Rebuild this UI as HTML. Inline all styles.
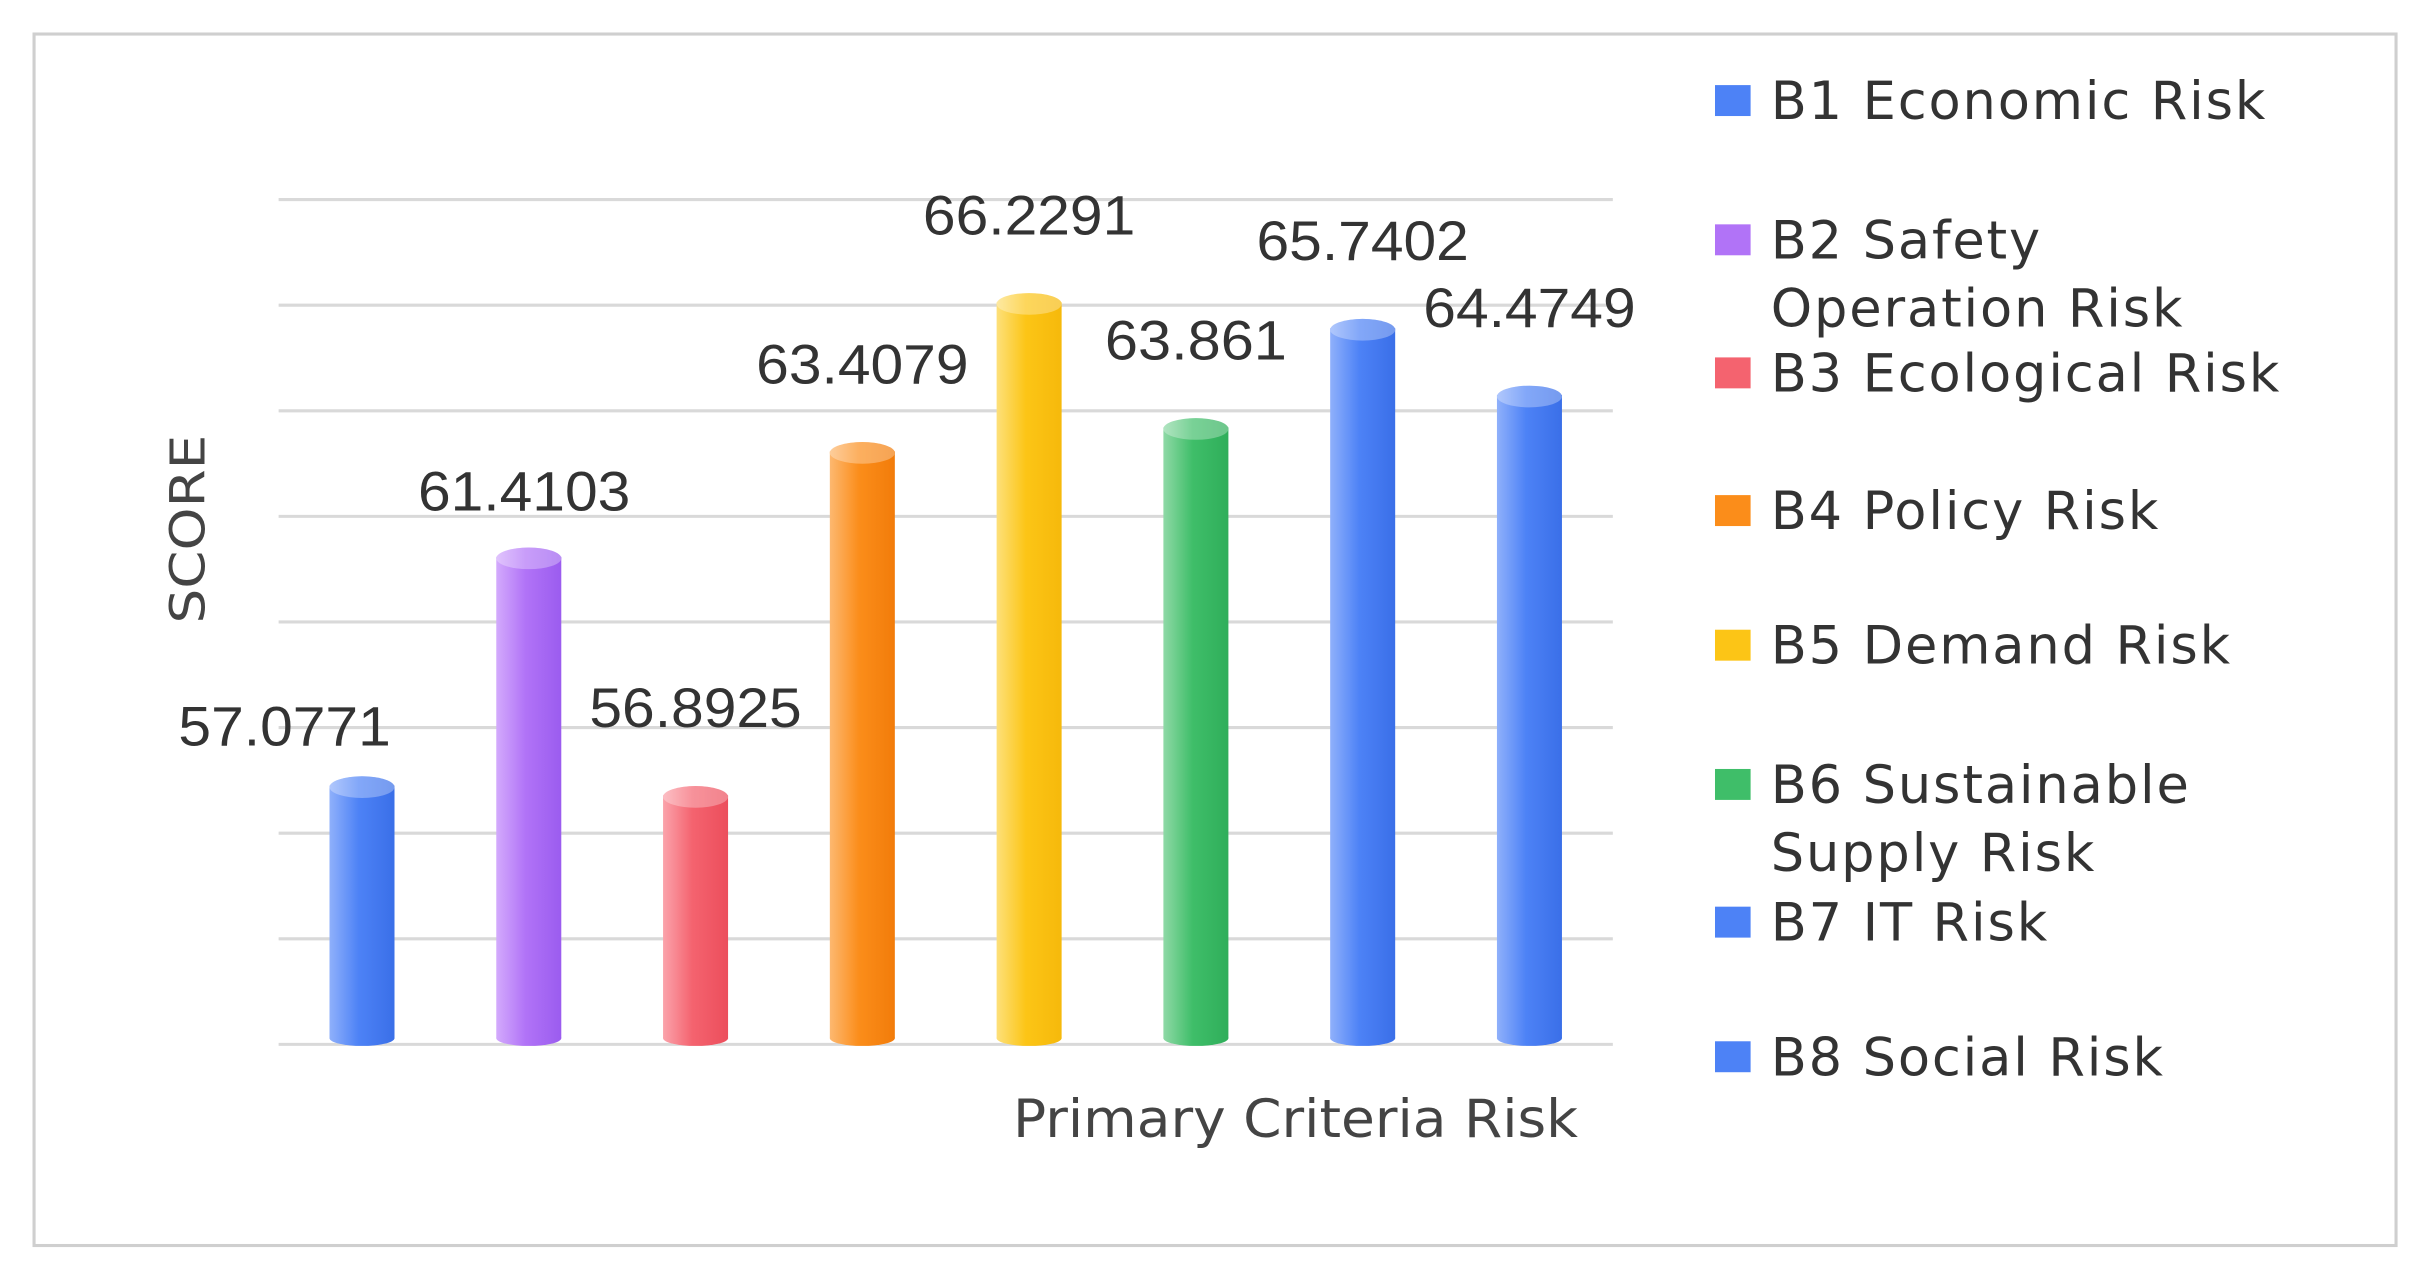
<!DOCTYPE html>
<html><head><meta charset="utf-8"><style>
html,body{margin:0;padding:0;background:#fff;}
svg{display:block;}
</style></head><body>
<svg id="chart" width="2427" height="1278" viewBox="0 0 1568 826" preserveAspectRatio="none" xmlns="http://www.w3.org/2000/svg">
<defs>
<linearGradient id="gBlue" x1="0" x2="1"><stop offset="0" stop-color="#8fb0fb"/><stop offset="0.45" stop-color="#4d82f6"/><stop offset="1" stop-color="#3a6fe8"/></linearGradient>
<linearGradient id="gPurple" x1="0" x2="1"><stop offset="0" stop-color="#d3aafc"/><stop offset="0.45" stop-color="#b173f7"/><stop offset="1" stop-color="#9b5cef"/></linearGradient>
<linearGradient id="gRed" x1="0" x2="1"><stop offset="0" stop-color="#fba3ab"/><stop offset="0.45" stop-color="#f4636f"/><stop offset="1" stop-color="#ec4e5c"/></linearGradient>
<linearGradient id="gOrange" x1="0" x2="1"><stop offset="0" stop-color="#fdb870"/><stop offset="0.45" stop-color="#fb8d1a"/><stop offset="1" stop-color="#f27c0a"/></linearGradient>
<linearGradient id="gYellow" x1="0" x2="1"><stop offset="0" stop-color="#fde07a"/><stop offset="0.45" stop-color="#fcc516"/><stop offset="1" stop-color="#f6b90b"/></linearGradient>
<linearGradient id="gGreen" x1="0" x2="1"><stop offset="0" stop-color="#8fd9a6"/><stop offset="0.45" stop-color="#3fbe69"/><stop offset="1" stop-color="#2fae5a"/></linearGradient>
</defs>
<rect x="22" y="22" width="1526" height="783" fill="#fff" stroke="#cfcfcf" stroke-width="2"/>
<g id="grid"></g>
<g id="bars"></g>
<g id="labels"></g>
<text transform="translate(132,342) rotate(-90)" text-anchor="middle" font-family="'DejaVu Sans', sans-serif" font-size="31" fill="#444" textLength="122" lengthAdjust="spacingAndGlyphs">SCORE</text>
<text x="837" y="735" text-anchor="middle" font-family="'DejaVu Sans', sans-serif" font-size="34" fill="#444" textLength="365" lengthAdjust="spacingAndGlyphs">Primary Criteria Risk</text>
<g id="legend"></g>
</svg>
<script>
const categories = ["B1 Economic Risk","B2 Safety Operation Risk","B3 Ecological Risk","B4 Policy Risk","B5 Demand Risk","B6 Sustainable Supply Risk","B7 IT Risk","B8 Social Risk"];
const values = [57.0771, 61.4103, 56.8925, 63.4079, 66.2291, 63.861, 65.7402, 64.4749];
const valueLabels = ["57.0771","61.4103","56.8925","63.4079","66.2291","63.861","65.7402","64.4749"];
const yTicks = [52, 54, 56, 58, 60, 62, 64, 66, 68];
const legendLines = [["B1 Economic Risk"],["B2 Safety","Operation Risk"],["B3 Ecological Risk"],["B4 Policy Risk"],["B5 Demand Risk"],["B6 Sustainable","Supply Risk"],["B7 IT Risk"],["B8 Social Risk"]];

const fills = ["gBlue","gPurple","gRed","gOrange","gYellow","gGreen","gBlue","gBlue"];
const swatch = ["#4d82f6","#b173f7","#f4636f","#fb8d1a","#fcc516","#3fbe69","#4d82f6","#4d82f6"];
const NS = "http://www.w3.org/2000/svg";
const yMin = 52, yMax = 68, plotTop = 129, plotBottom = 675, plotLeft = 180, plotRight = 1042;
function y(v){ return plotBottom - (v - yMin) / (yMax - yMin) * (plotBottom - plotTop); }
const step = (plotRight - plotLeft) / categories.length;
function x(i){ return plotLeft + step * (i + 0.5); }
function mk(tag, attrs){ const e = document.createElementNS(NS, tag); for (const k in attrs) e.setAttribute(k, attrs[k]); return e; }

const grid = document.getElementById('grid');
yTicks.forEach(t => {
  const l = mk('line', {x1: plotLeft, x2: plotRight, y1: y(t), y2: y(t), stroke: '#d9d9d9', 'stroke-width': 2});
  
  
  grid.appendChild(l);
});

const bars = document.getElementById('bars');
const labels = document.getElementById('labels');
const bw = 42;
values.forEach((v, i) => {
  const cx = x(i), top = y(v);
  const g = mk('g', {});
  
  
  g.appendChild(mk('rect', {x: cx - bw/2, y: top + 6, width: bw, height: plotBottom - top - 10, fill: 'url(#' + fills[i] + ')'}));
  g.appendChild(mk('ellipse', {cx: cx, cy: plotBottom - 4, rx: bw/2, ry: 5, fill: 'url(#' + fills[i] + ')'}));
  g.appendChild(mk('ellipse', {cx: cx, cy: top + 7, rx: bw/2, ry: 7, fill: 'url(#' + fills[i] + ')'}));
  g.appendChild(mk('ellipse', {cx: cx, cy: top + 7, rx: bw/2, ry: 7, fill: '#fff', 'fill-opacity': 0.3}));
  bars.appendChild(g);
  let lx = cx, ly = top - 38;
  if (i === 0) { lx = cx - 50; ly = top - 20; }
  if (i === 1) { lx = cx - 3; ly = top - 24; }
  const s = valueLabels[i];
  const t = mk('text', {x: lx, y: ly, 'text-anchor': 'middle', 'font-family': "'Liberation Sans', sans-serif", 'font-size': 36, fill: '#333', 'textLength': s.length * 19.6, 'lengthAdjust': 'spacingAndGlyphs'});
  t.textContent = s;
  
  
  labels.appendChild(t);
});

const legend = document.getElementById('legend');
const legendY = [65, 155, 241, 330, 417, 507, 596, 683];
legendLines.forEach((lines, i) => {
  const g = mk('g', {});
  
  
  g.appendChild(mk('rect', {x: 1108, y: legendY[i] - 10, width: 23, height: 20, fill: swatch[i]}));
  lines.forEach((s, j) => {
    const t = mk('text', {x: 1144, y: legendY[i] + 12 + j * 44, 'font-family': "'DejaVu Sans', sans-serif", 'font-size': 34, 'letter-spacing': 1.2, fill: '#333'});
    t.textContent = s;
    g.appendChild(t);
  });
  legend.appendChild(g);
});
</script>
</body></html>
